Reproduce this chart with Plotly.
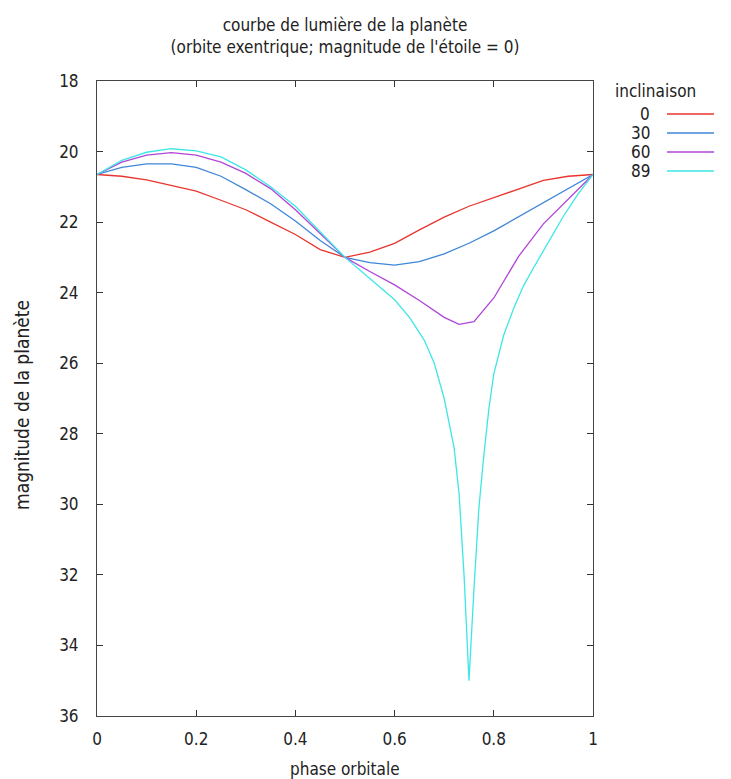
import plotly.graph_objects as go

# ---- data ----
series_names = ["0", "30", "60", "89"]
series_colors = ["#e8352e", "#3f86d8", "#b045d8", "#3ee6e6"]

phase_0 = [0, 0.05, 0.1, 0.15, 0.2, 0.25, 0.3, 0.35, 0.4, 0.45, 0.5, 0.55, 0.6, 0.65, 0.7, 0.75, 0.8, 0.85, 0.9, 0.95, 1.0]
mag_0 = [20.65, 20.7, 20.8, 20.95, 21.12, 21.38, 21.65, 22.0, 22.35, 22.78, 23.0, 22.85, 22.6, 22.22, 21.86, 21.55, 21.3, 21.05, 20.82, 20.7, 20.65]

phase_30 = [0, 0.05, 0.1, 0.15, 0.2, 0.25, 0.3, 0.35, 0.4, 0.45, 0.5, 0.55, 0.6, 0.65, 0.7, 0.75, 0.8, 0.85, 0.9, 0.95, 1.0]
mag_30 = [20.65, 20.45, 20.35, 20.35, 20.45, 20.7, 21.08, 21.48, 21.97, 22.52, 23.0, 23.15, 23.22, 23.12, 22.9, 22.6, 22.25, 21.85, 21.45, 21.05, 20.65]

phase_60 = [0, 0.05, 0.1, 0.15, 0.2, 0.25, 0.3, 0.35, 0.4, 0.45, 0.5, 0.55, 0.6, 0.65, 0.7, 0.73, 0.76, 0.8, 0.85, 0.9, 0.95, 1.0]
mag_60 = [20.65, 20.3, 20.1, 20.03, 20.1, 20.3, 20.62, 21.05, 21.65, 22.32, 23.0, 23.4, 23.78, 24.22, 24.7, 24.9, 24.82, 24.15, 22.97, 22.05, 21.35, 20.65]

phase_89 = [0, 0.05, 0.1, 0.15, 0.2, 0.25, 0.3, 0.35, 0.4, 0.45, 0.5, 0.55, 0.6, 0.63, 0.66, 0.68, 0.7, 0.72, 0.73, 0.74, 0.75,
            0.76, 0.77, 0.78, 0.79, 0.8, 0.82, 0.84, 0.86, 0.88, 0.9, 0.92, 0.94, 0.97, 1.0]
mag_89 = [20.65, 20.25, 20.02, 19.92, 19.98, 20.15, 20.52, 21.0, 21.55, 22.28, 23.0, 23.6, 24.2, 24.7, 25.35, 26.0, 27.0, 28.4, 29.7, 32.0, 35.0,
          32.4, 30.1, 28.6, 27.3, 26.3, 25.2, 24.45, 23.8, 23.3, 22.8, 22.3, 21.84, 21.2, 20.65]

phases = [phase_0, phase_30, phase_60, phase_89]
mags = [mag_0, mag_30, mag_60, mag_89]

x_ticks = [0, 0.2, 0.4, 0.6, 0.8, 1]
x_tick_labels = ["0", "0.2", "0.4", "0.6", "0.8", "1"]
y_ticks = [18, 20, 22, 24, 26, 28, 30, 32, 34, 36]

FONT = "DejaVu Sans Condensed"
FS = 17
TXT = "#222222"

fig = go.Figure()
for name, col, px, mg in zip(series_names, series_colors, phases, mags):
    fig.add_trace(go.Scatter(x=px, y=mg, mode="lines", name=name,
                             line=dict(color=col, width=1.3), showlegend=False))

# page body has an 8px margin; figure coords = page coords - 8
OFF = 8
W, H = 731 - OFF, 779 - OFF
L, T = 97 - OFF, 81 - OFF
R = W - (593 - OFF)
B = H - (716 - OFF)
PW, PH = W - L - R, H - T - B


def px2paper_x(px):
    return (px - OFF - L) / PW


def px2paper_y(py):
    return 1 - (py - OFF - T) / PH


fig.update_layout(
    width=W, height=H,
    margin=dict(l=L, r=R, t=T, b=B),
    plot_bgcolor="white", paper_bgcolor="white",
    font=dict(family=FONT, size=FS, color=TXT),
    title=dict(text="courbe de lumière de la planète<br>(orbite exentrique; magnitude de l'étoile = 0)",
               x=(345 - OFF) / W, xanchor="center", y=1 - (31 - OFF) / H, yanchor="middle",
               font=dict(family=FONT, size=FS, color=TXT)),
    xaxis=dict(range=[0, 1], tickvals=x_ticks, ticktext=x_tick_labels, ticks="inside", ticklen=6,
               tickcolor="#333333", showline=True, linecolor="#444444", linewidth=1, mirror="ticks",
               showgrid=False, zeroline=False, tickfont=dict(size=FS, color=TXT), ticklabelstandoff=8),
    yaxis=dict(range=[36, 18], tickvals=y_ticks, ticks="inside", ticklen=6,
               tickcolor="#333333", showline=True, linecolor="#444444", linewidth=1, mirror="ticks",
               showgrid=False, zeroline=False, tickfont=dict(size=FS, color=TXT), ticklabelstandoff=14),
)

# axis titles
fig.add_annotation(text="phase orbitale", xref="paper", yref="paper", x=0.5, y=px2paper_y(769),
                   xanchor="center", yanchor="middle", showarrow=False,
                   font=dict(family=FONT, size=FS, color=TXT))
fig.add_annotation(text="magnitude de la planète", xref="paper", yref="paper", x=px2paper_x(22), y=px2paper_y(405),
                   xanchor="center", yanchor="middle", showarrow=False, textangle=-90,
                   font=dict(family=FONT, size=19, color=TXT))

# legend drawn manually (gnuplot style: label then line sample)
fig.add_annotation(text="inclinaison", xref="paper", yref="paper",
                   x=px2paper_x(613), y=px2paper_y(91),
                   xanchor="left", yanchor="middle", showarrow=False,
                   font=dict(family=FONT, size=FS, color=TXT))
for i, (name, col) in enumerate(zip(series_names, series_colors)):
    ypix = 114 + i * 19
    yp = px2paper_y(ypix)
    fig.add_annotation(text=name, xref="paper", yref="paper",
                       x=px2paper_x(652), y=yp, xanchor="right", yanchor="middle",
                       showarrow=False, font=dict(family=FONT, size=FS, color=TXT))
    fig.add_shape(type="line", xref="paper", yref="paper",
                  x0=px2paper_x(667), x1=px2paper_x(714), y0=yp, y1=yp,
                  line=dict(color=col, width=1.3))

fig.write_html("out.html")
